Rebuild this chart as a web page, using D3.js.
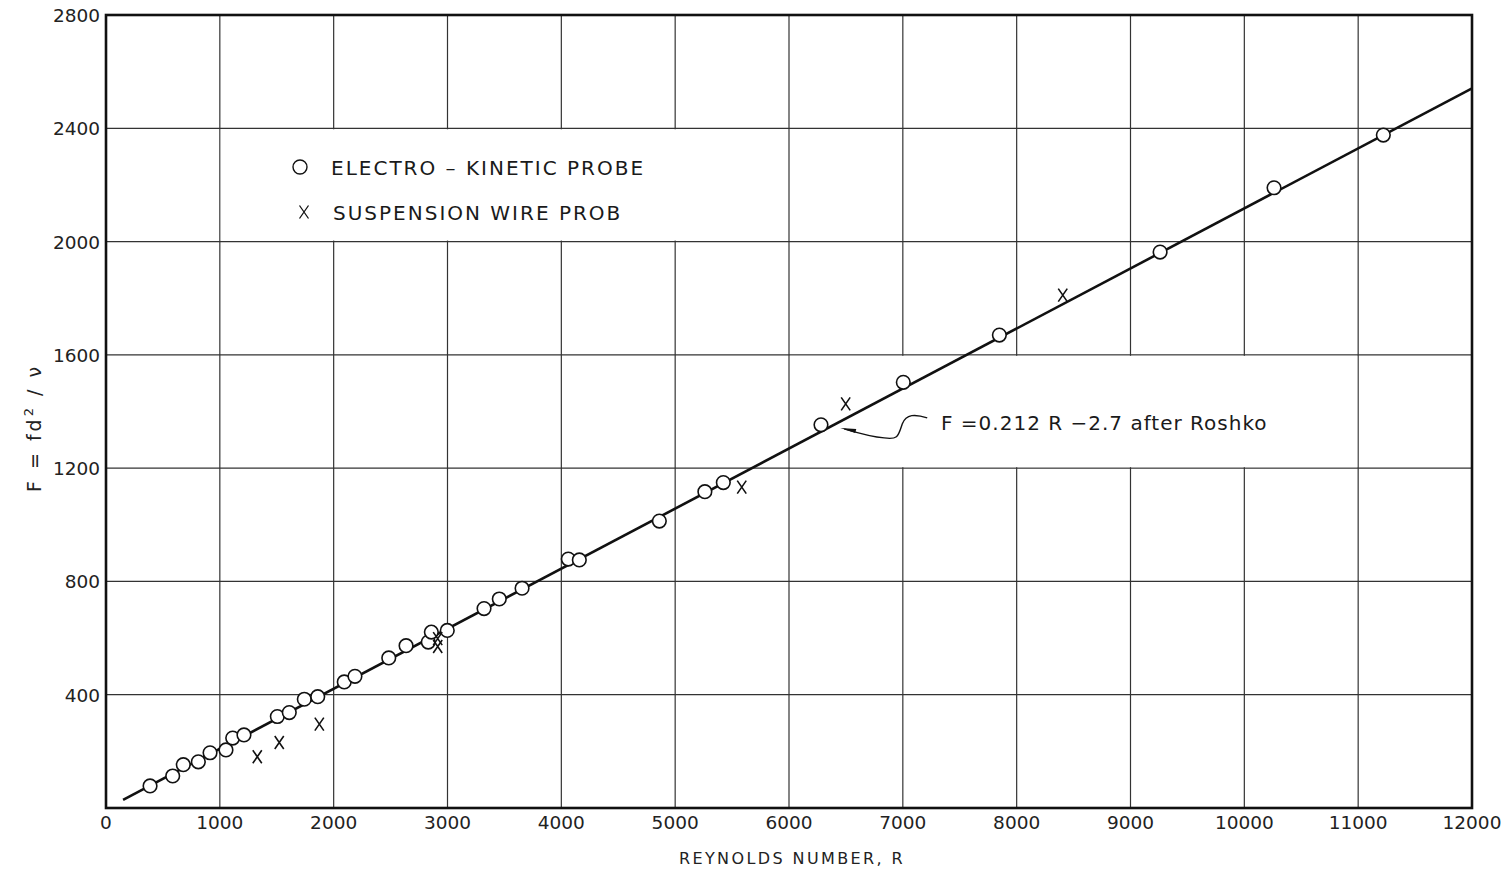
<!DOCTYPE html>
<html>
<head>
<meta charset="utf-8">
<script src="https://cdn.jsdelivr.net/npm/d3@7"></script>
<style>
  body { margin: 0; background: #fff; }
  svg { display: block; font-family: 'DejaVu Sans', sans-serif; }
  .grid line { stroke: #333; stroke-width: 1.2; }
  .tick-label { fill: #222; font-size: 18.5px; }
  .note { fill: #1a1a1a; font-size: 20px; letter-spacing: 2px; }
</style>
</head>
<body>
<script>
// Electro-kinetic probe (open circles)
var ekR = [387, 586, 679, 811, 914, 1054, 1113, 1212, 1505, 1610, 1742, 1860, 2093, 2187,
           2484, 2636, 2831, 2858, 2998, 3321, 3455, 3655, 4061, 4158, 4861, 5261, 5423,
           6281, 7004, 7848, 9260, 10261, 11221];
var ekF = [78, 113, 153, 163, 195, 205, 247, 258, 323, 337, 384, 393, 445, 465,
           530, 573, 586, 621, 627, 704, 738, 776, 879, 876, 1013, 1117, 1149,
           1353, 1503, 1670, 1963, 2190, 2376];
// Suspension wire probe (x marks)
var swR = [1329, 1522, 1874, 2914, 2914, 5585, 6498, 8405];
var swF = [181, 231, 296, 598, 570, 1133, 1427, 1811];
// F = 0.212 R - 2.7 (Roshko), end points
var fitR = [150, 12000];
var fitF = [29, 2541];
var xTicks = [0, 1000, 2000, 3000, 4000, 5000, 6000, 7000, 8000, 9000, 10000, 11000, 12000];
var yTicks = [400, 800, 1200, 1600, 2000, 2400, 2800];

var w = 1508;
var h = 872;
var margin = {top: 15, bottom: 64, left: 106, right: 36};

var svg = d3.select('body').append('svg')
            .attr('width', w)
            .attr('height', h);

var x = d3.scaleLinear()
          .domain([0, 12000])
          .range([margin.left, w - margin.right]);
var y = d3.scaleLinear()
          .domain([0, 2800])
          .range([h - margin.bottom, margin.top]);

// grid
var grid = svg.append('g').classed('grid', true);
grid.selectAll('.vline')
    .data(xTicks.slice(1, -1))
    .enter().append('line')
      .attr('x1', function(d){ return x(d); })
      .attr('x2', function(d){ return x(d); })
      .attr('y1', y(0))
      .attr('y2', y(2800));
grid.selectAll('.hline')
    .data(yTicks.slice(0, -1))
    .enter().append('line')
      .attr('x1', x(0))
      .attr('x2', x(12000))
      .attr('y1', function(d){ return y(d); })
      .attr('y2', function(d){ return y(d); });

// blank panels behind legend and annotation
var panels = [
  {r0: 1000, r1: 6000, f0: 2000, f1: 2400},
  {r0: 6000, r1: 11000, f0: 1200, f1: 1600}
];
svg.selectAll('.panel')
    .data(panels)
    .enter().append('rect')
      .attr('x', function(d){ return x(d.r0) + 1; })
      .attr('y', function(d){ return y(d.f1) + 1; })
      .attr('width', function(d){ return x(d.r1) - x(d.r0) - 2; })
      .attr('height', function(d){ return y(d.f0) - y(d.f1) - 2; })
      .attr('fill', '#fff');

// frame
svg.append('rect')
    .attr('x', x(0))
    .attr('y', y(2800))
    .attr('width', x(12000) - x(0))
    .attr('height', y(0) - y(2800))
    .attr('fill', 'none')
    .attr('stroke', '#111')
    .attr('stroke-width', 2.6);

// fitted line
svg.append('line')
    .attr('x1', x(fitR[0])).attr('y1', y(fitF[0]))
    .attr('x2', x(fitR[1])).attr('y2', y(fitF[1]))
    .attr('stroke', '#111')
    .attr('stroke-width', 2.6);

// circles
svg.selectAll('.ek')
    .data(ekR)
    .enter().append('circle')
      .classed('ek', true)
      .attr('cx', function(d){ return x(d); })
      .attr('cy', function(d, i){ return y(ekF[i]); })
      .attr('r', 6.8)
      .attr('fill', '#fff')
      .attr('stroke', '#111')
      .attr('stroke-width', 1.6);

// x marks
function xPath(cx, cy){
  return 'M' + (cx - 4.5) + ',' + (cy - 6.5) + 'L' + (cx + 4.5) + ',' + (cy + 6.5) +
         'M' + (cx + 4.5) + ',' + (cy - 6.5) + 'L' + (cx - 4.5) + ',' + (cy + 6.5);
}
svg.selectAll('.sw')
    .data(swR)
    .enter().append('path')
      .classed('sw', true)
      .attr('d', function(d, i){ return xPath(x(d), y(swF[i])); })
      .attr('fill', 'none')
      .attr('stroke', '#111')
      .attr('stroke-width', 1.6);

// tick labels
svg.selectAll('.xlab')
    .data(xTicks)
    .enter().append('text')
      .classed('tick-label', true)
      .attr('x', function(d){ return x(d); })
      .attr('y', y(0) + 21)
      .attr('text-anchor', 'middle')
      .text(function(d){ return d; });
svg.selectAll('.ylab')
    .data(yTicks)
    .enter().append('text')
      .classed('tick-label', true)
      .attr('x', x(0) - 6)
      .attr('y', function(d){ return y(d) + 7; })
      .attr('text-anchor', 'end')
      .text(function(d){ return d; });

// axis titles
svg.append('text')
    .attr('x', (x(0) + x(12000)) / 2 + 3)
    .attr('y', 864)
    .attr('text-anchor', 'middle')
    .style('font-size', '16px')
    .style('letter-spacing', '2.4px')
    .attr('fill', '#222')
    .text('REYNOLDS NUMBER, R');
var yTitle = svg.append('text')
    .attr('transform', 'translate(41,428) rotate(-90)')
    .attr('text-anchor', 'middle')
    .style('font-size', '19px')
    .style('letter-spacing', '3px')
    .attr('fill', '#222');
yTitle.append('tspan').text('F = fd');
yTitle.append('tspan').attr('dy', -8).style('font-size', '13px').text('2');
yTitle.append('tspan').attr('dy', 8).text(' / ν');

// legend
svg.append('circle')
    .attr('cx', 300).attr('cy', 167).attr('r', 7)
    .attr('fill', 'none').attr('stroke', '#111').attr('stroke-width', 1.4);
svg.append('text').classed('note', true)
    .attr('x', 331).attr('y', 175)
    .text('ELECTRO – KINETIC PROBE');
svg.append('path')
    .attr('d', xPath(304, 212))
    .attr('fill', 'none').attr('stroke', '#111').attr('stroke-width', 1.3);
svg.append('text').classed('note', true)
    .attr('x', 333).attr('y', 220)
    .text('SUSPENSION WIRE PROB');

// annotation with curly leader
var ax = x(6450), ay = y(1342);
svg.append('path')
    .attr('d', 'M' + (ax + 87) + ',' + (ay - 10) +
               'C' + (ax + 75) + ',' + (ay - 14) + ' ' + (ax + 66) + ',' + (ay - 14) + ' ' + (ax + 62) + ',' + (ay - 4) +
               'C' + (ax + 58) + ',' + (ay + 8) + ' ' + (ax + 58) + ',' + (ay + 12) + ' ' + (ax + 44) + ',' + (ay + 10) +
               'C' + (ax + 30) + ',' + (ay + 9) + ' ' + (ax + 14) + ',' + (ay + 4) + ' ' + (ax + 4) + ',' + (ay + 1))
    .attr('fill', 'none')
    .attr('stroke', '#111')
    .attr('stroke-width', 1.4);
svg.append('path')
    .attr('d', 'M' + ax + ',' + ay + 'L' + (ax + 16) + ',' + (ay + 1) + 'L' + (ax + 15) + ',' + (ay + 5) + 'Z')
    .attr('fill', '#111');
svg.append('text').classed('note', true)
    .style('letter-spacing', '1px')
    .attr('x', 941).attr('y', 430)
    .text('F =0.212 R −2.7  after  Roshko');
</script>
</body>
</html>
